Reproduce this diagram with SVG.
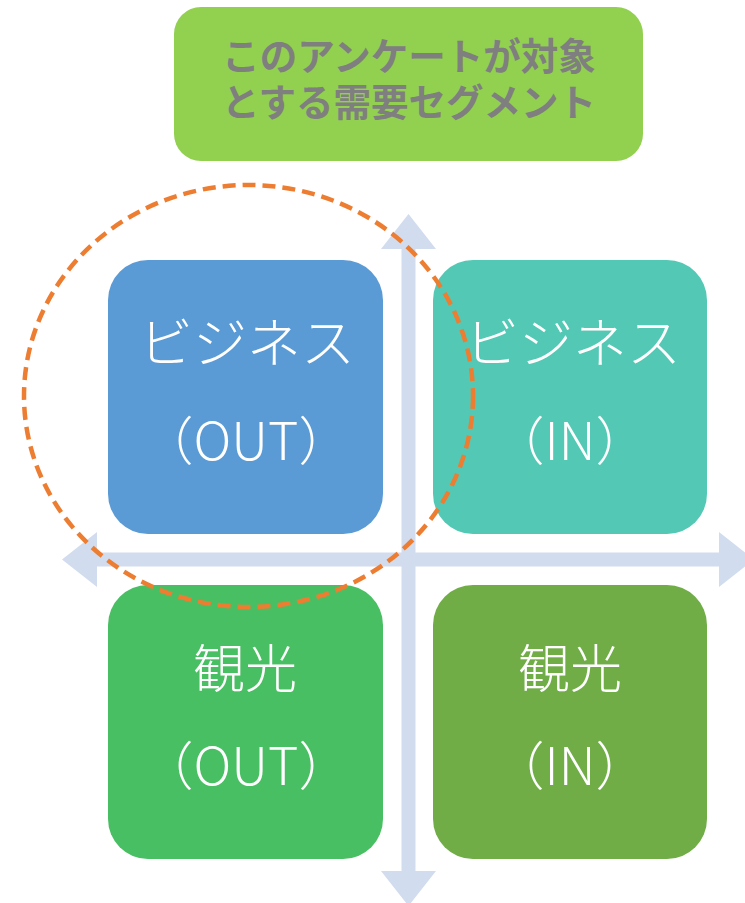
<svg xmlns="http://www.w3.org/2000/svg" width="745" height="903" viewBox="0 0 745 903">
<style>
.box{stroke:none}
.lbl{font-family:"Noto Sans CJK JP","Noto Sans",sans-serif;font-size:52px;font-weight:300;fill:#ffffff;text-anchor:middle}
.kana{font-size:54px}
.ttl{font-family:"Noto Sans CJK JP","Noto Sans",sans-serif;font-size:37.5px;font-weight:bold;fill:#7f7f7f;text-anchor:middle}
.arr{fill:#d1dcee}
</style>
<rect width="745" height="903" fill="#ffffff"/>
<g id="title">
<rect x="174" y="7" width="469" height="154" rx="27" fill="#92d050"/>
<text class="ttl" x="409" y="70">このアンケートが対象</text>
<text class="ttl" x="409" y="116">とする需要セグメント</text>
</g>
<g id="biz-out">
<rect class="box" x="108" y="260" width="275" height="274" rx="40" fill="#5b9bd5"/>
<text class="lbl kana" x="247" y="363">ビジネス</text>
<text class="lbl" x="246" y="460">（OUT）</text>
</g>
<g id="biz-in">
<rect class="box" x="433" y="260" width="274" height="274" rx="40" fill="#53c9b5"/>
<text class="lbl kana" x="573" y="363">ビジネス</text>
<text class="lbl" x="570" y="460">（IN）</text>
</g>
<g id="kanko-out">
<rect class="box" x="108" y="585" width="275" height="274" rx="40" fill="#49bf63"/>
<text class="lbl" x="245" y="688">観光</text>
<text class="lbl" x="246" y="785">（OUT）</text>
</g>
<g id="kanko-in">
<rect class="box" x="433" y="585" width="274" height="274" rx="40" fill="#70ad47"/>
<text class="lbl" x="570" y="688">観光</text>
<text class="lbl" x="570" y="785">（IN）</text>
</g>
<g id="connectors">
<polygon class="arr" points="408.5,214 436,249 415.5,249 415.5,871 436,871 408.5,906 381,871 401.5,871 401.5,249 381,249"/>
<polygon class="arr" points="62,559.5 97,532 97,552.5 719,552.5 719,532 754,559.5 719,587 719,566.5 97,566.5 97,587"/>
</g>
<g id="highlight">
<ellipse cx="248.5" cy="396" rx="224.5" ry="211" fill="none" stroke="#ed7d31" stroke-width="4.5" stroke-dasharray="13,7"/>
</g>
</svg>
